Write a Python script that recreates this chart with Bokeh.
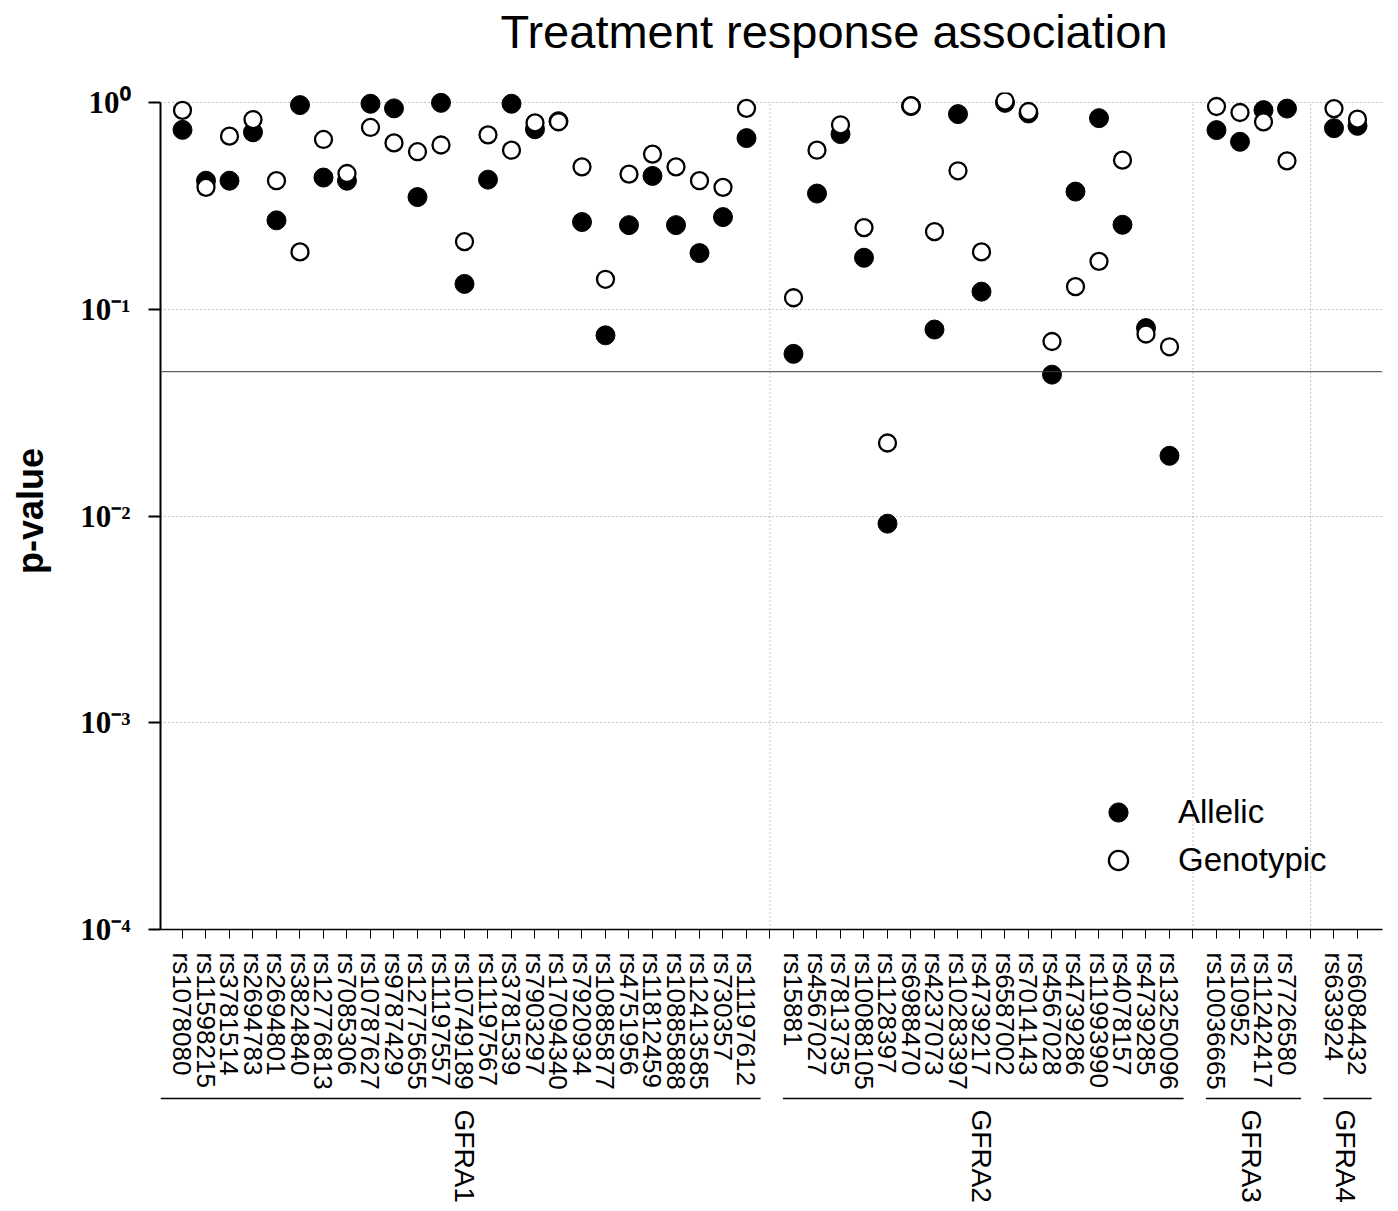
import math
from bokeh.plotting import figure
from bokeh.layouts import column
from bokeh.models import (ColumnDataSource, FixedTicker, Span, Legend, LegendItem,
                          Title, CustomJSTickFormatter, Range1d)
from bokeh.core.properties import value
from bokeh.embed import file_html
from bokeh.resources import INLINE

# ---------------- data ----------------
title_text = "Treatment response association"
y_label = "p-value"
groups = ["GFRA1", "GFRA2", "GFRA3", "GFRA4"]

gfra1_snps = ["rs1078080", "rs11598215", "rs3781514", "rs2694783", "rs2694801",
              "rs3824840", "rs12776813", "rs7085306", "rs10787627", "rs9787429",
              "rs12775655", "rs11197557", "rs10749189", "rs11197567", "rs3781539",
              "rs7903297", "rs17094340", "rs7920934", "rs10885877", "rs4751956",
              "rs11812459", "rs10885888", "rs12413585", "rs730357", "rs11197612"]
gfra1_allelic = [0.74, 0.42, 0.42, 0.72, 0.27, 0.975, 0.435, 0.42, 0.99, 0.94,
                 0.35, 1.0, 0.133, 0.425, 0.99, 0.745, 0.815, 0.265, 0.075, 0.256,
                 0.443, 0.256, 0.1875, 0.28, 0.675]
gfra1_genotypic = [0.92, 0.39, 0.69, 0.83, 0.42, 0.19, 0.665, 0.455, 0.76, 0.64,
                   0.58, 0.625, 0.213, 0.70, 0.59, 0.80, 0.81, 0.49, 0.14, 0.452,
                   0.565, 0.49, 0.42, 0.39, 0.94]

gfra2_snps = ["rs15881", "rs4567027", "rs7813735", "rs10088105", "rs1128397",
              "rs6988470", "rs4237073", "rs10283397", "rs4739217", "rs6587002",
              "rs7014143", "rs4567028", "rs4739286", "rs11993990", "rs4078157",
              "rs4739285", "rs13250096"]
gfra2_allelic = [0.061, 0.364, 0.706, 0.178, 0.0092, 0.965, 0.080, 0.882, 0.122,
                 1.0, 0.888, 0.0484, 0.372, 0.843, 0.257, 0.0813, 0.0196]
gfra2_genotypic = [0.114, 0.59, 0.783, 0.249, 0.0226, 0.967, 0.238, 0.469, 0.19,
                   1.02, 0.908, 0.070, 0.129, 0.171, 0.528, 0.0761, 0.066]

gfra3_snps = ["rs10036665", "rs10952", "rs11242417", "rs7726580"]
gfra3_allelic = [0.738, 0.648, 0.922, 0.938]
gfra3_genotypic = [0.96, 0.898, 0.809, 0.524]

gfra4_snps = ["rs633924", "rs6084432"]
gfra4_allelic = [0.754, 0.774]
gfra4_genotypic = [0.938, 0.834]

threshold = 0.05
y_ticks = [1e-4, 1e-3, 1e-2, 1e-1, 1.0]

group_snps = [gfra1_snps, gfra2_snps, gfra3_snps, gfra4_snps]
group_allelic = [gfra1_allelic, gfra2_allelic, gfra3_allelic, gfra4_allelic]
group_genotypic = [gfra1_genotypic, gfra2_genotypic, gfra3_genotypic, gfra4_genotypic]

# ---------------- slot layout (one empty slot between genes) ----------------
xs, names, allelic, genotypic = [], [], [], []
gap_slots, spans = [], []
slot = 1
for gi, snps in enumerate(group_snps):
    first = slot
    for k, s in enumerate(snps):
        xs.append(slot)
        names.append(s)
        allelic.append(group_allelic[gi][k])
        genotypic.append(group_genotypic[gi][k])
        slot += 1
    spans.append((first, slot - 1))
    if gi < len(group_snps) - 1:
        gap_slots.append(slot)
        slot += 1
n_slots = slot - 1

x_start = 0.064
x_end = x_start + n_slots + 1
x_range = Range1d(x_start, x_end)

src = ColumnDataSource(dict(x=xs, snp=names, allelic=allelic, genotypic=genotypic))

W = 1398
LEFT, RIGHT = 160, 16
H_TITLE = 58
TOP = 34
FRAME_H = 837
BOTTOM = 167
H_MAIN = TOP + FRAME_H + BOTTOM
H_GENE = 1211 - H_TITLE - H_MAIN

# ---------------- title strip ----------------
t = figure(width=W, height=H_TITLE, x_range=x_range, y_range=(0, 1),
           output_backend="svg", toolbar_location=None, x_axis_location=None,
           y_axis_location=None, min_border_left=LEFT, min_border_right=RIGHT,
           min_border_top=H_TITLE - 1, min_border_bottom=0)
t.outline_line_color = None
t.xgrid.visible = False
t.ygrid.visible = False
t.title = Title(text=title_text, align="left", offset=340, vertical_align="bottom",
                standoff=0, text_font="Liberation Sans", text_font_style="normal",
                text_font_size="47px", text_color="black")

# ---------------- main plot ----------------
p = figure(width=W, height=H_MAIN, x_range=x_range, y_range=(1e-4, 10 ** 0.05),
           y_axis_type="log", output_backend="svg", toolbar_location=None,
           min_border_left=LEFT, min_border_right=RIGHT, min_border_top=TOP,
           min_border_bottom=BOTTOM)
p.outline_line_color = None
p.background_fill_color = "white"

# grid
p.xgrid.visible = False
p.ygrid.ticker = FixedTicker(ticks=y_ticks)
p.ygrid.grid_line_color = "#8c8c8c"
p.ygrid.grid_line_dash = "1 3"
p.ygrid.grid_line_width = 1

# x axis
xa = p.xaxis[0]
xa.ticker = FixedTicker(ticks=list(range(1, n_slots + 1)))
overrides = {i: "" for i in range(1, n_slots + 1)}
for xv, nm in zip(xs, names):
    overrides[xv] = nm
xa.major_label_overrides = overrides
xa.major_label_orientation = -math.pi / 2
xa.major_label_text_font = "Liberation Sans"
xa.major_label_text_font_size = "26px"
xa.major_label_text_color = "black"
xa.major_label_standoff = 14
xa.major_tick_out = 9
xa.major_tick_in = 0
xa.minor_tick_line_color = None
xa.axis_line_width = 1.5
xa.axis_line_color = "black"
xa.major_tick_line_color = "black"

# y axis
ya = p.yaxis[0]
ya.ticker = FixedTicker(ticks=y_ticks)
ya.bounds = (1e-4, 1.0)
ya.formatter = CustomJSTickFormatter(code="""
const sup = {"-": "\u207b", "0": "\u2070", "1": "\u00b9", "2": "\u00b2",
             "3": "\u00b3", "4": "\u2074"};
const e = Math.round(Math.log10(tick)).toString();
return "10" + e.split("").map((c) => sup[c]).join("");
""")
ya.major_label_text_font = "Liberation Serif"
ya.major_label_text_font_style = "bold"
ya.major_label_text_font_size = "31px"
ya.major_label_text_color = "black"
ya.major_label_standoff = 18
ya.major_tick_out = 12
ya.major_tick_in = 0
ya.minor_tick_line_color = None
ya.axis_line_width = 2
ya.major_tick_line_width = 2
ya.axis_line_color = "black"
ya.axis_label = y_label
ya.axis_label_text_font = "Liberation Sans"
ya.axis_label_text_font_style = "bold"
ya.axis_label_text_font_size = "36px"
ya.axis_label_text_color = "black"
ya.axis_label_standoff = 26

# separators between genes
p.segment(x0=gap_slots, y0=[1e-4] * len(gap_slots), x1=gap_slots,
          y1=[1.0] * len(gap_slots), line_color="#8c8c8c", line_dash="1 3",
          line_width=1)

# significance threshold
p.add_layout(Span(location=threshold, dimension="width", line_color="#3a3a3a",
                  line_width=1))

# points
r_all = p.scatter("x", "allelic", source=src, marker="circle", size=19,
                  fill_color="black", line_color="black", line_width=1)
r_gen = p.scatter("x", "genotypic", source=src, marker="circle", size=17,
                  fill_color="white", line_color="black", line_width=2.3)

legend = Legend(items=[LegendItem(label="Allelic", renderers=[r_all]),
                       LegendItem(label="Genotypic", renderers=[r_gen])],
                location=(934, 45), margin=0, padding=0, spacing=0,
                glyph_width=48, glyph_height=48, label_height=48,
                label_standoff=36, border_line_color=None,
                background_fill_alpha=0, label_text_font="Liberation Sans",
                label_text_font_size="33px", label_text_color="black")
p.add_layout(legend)

# ---------------- gene brackets and names (strip below the SNP labels) ----------------
g = figure(width=W, height=H_GENE, x_range=x_range, y_range=(0, H_GENE),
           output_backend="svg", toolbar_location=None, x_axis_location=None,
           y_axis_location=None, min_border_left=LEFT, min_border_right=RIGHT,
           min_border_top=0, min_border_bottom=0)
g.outline_line_color = None
g.xgrid.visible = False
g.ygrid.visible = False

lowers, uppers = [], []
for gi, (a, b) in enumerate(spans):
    lowers.append(x_start if gi == 0 else a - 0.45)
    uppers.append(b + 0.6)
bracket_y = H_GENE - 2
label_y = H_GENE - 13
g.segment(x0=lowers, y0=[bracket_y] * len(spans), x1=uppers,
          y1=[bracket_y] * len(spans), line_color="black", line_width=1.5)
g.text(x=[(a + b) / 2 for a, b in spans], y=[label_y] * len(spans), text=groups,
       angle=-math.pi / 2, text_align="left", text_baseline="middle",
       text_font=value("Liberation Sans"), text_font_size=value("28px"),
       text_color="black")

layout = column(t, p, g, spacing=0)
open("out.html", "w").write(file_html(layout, INLINE, title=title_text))
